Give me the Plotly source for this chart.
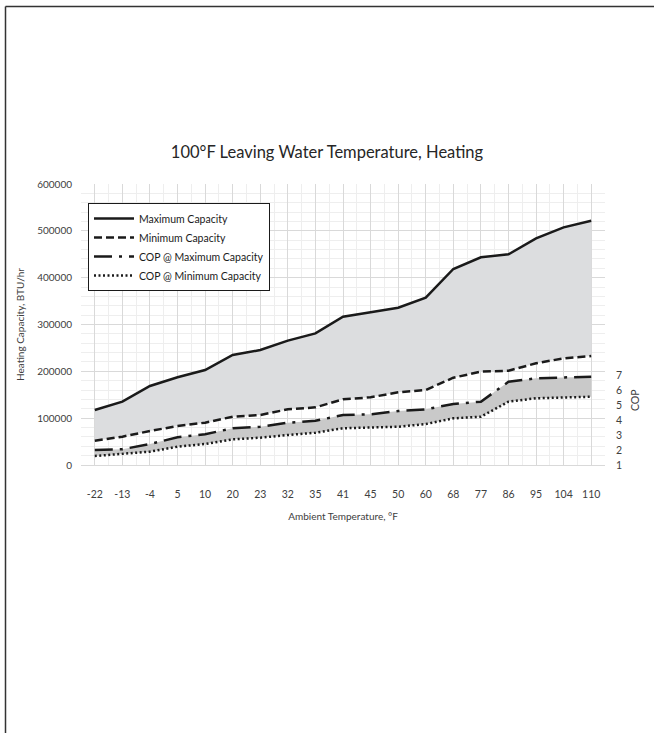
import plotly.graph_objects as go

categories = ["-22", "-13", "-4", "5", "10", "20", "23", "32", "35", "41",
              "45", "50", "60", "68", "77", "86", "95", "104", "110"]
max_capacity = [117400, 135200, 168700, 187300, 202800, 234900, 245500, 265500, 281100,
                316700, 326000, 335900, 357200, 418500, 443400, 449800, 484000, 507500, 521700]
min_capacity = [51900, 60500, 72600, 83300, 90400, 103200, 106800, 118900, 123100,
                140200, 144500, 155200, 160100, 186400, 199300, 201400, 217100, 227800, 232700]
cop_max = [2.00, 2.05, 2.40, 2.85, 3.05, 3.45, 3.55, 3.82, 3.95,
           4.33, 4.38, 4.60, 4.71, 5.07, 5.22, 6.55, 6.78, 6.85, 6.89]
cop_min = [1.60, 1.73, 1.89, 2.22, 2.40, 2.71, 2.82, 3.00, 3.15,
           3.45, 3.51, 3.55, 3.73, 4.11, 4.22, 5.22, 5.45, 5.49, 5.55]
cap_ticks = [0, 100000, 200000, 300000, 400000, 500000, 600000]
cop_ticks = [1, 2, 3, 4, 5, 6, 7]

xpos = list(range(len(categories)))
FONT = "Lato, Liberation Sans, Arial, sans-serif"
TXT = "#404040"
LINE = "#1a1a1a"

fig = go.Figure()

# capacity band (fill only, no legend)
fig.add_trace(go.Scatter(x=xpos, y=min_capacity, mode="lines", line=dict(width=0),
                         showlegend=False, hoverinfo="skip"))
fig.add_trace(go.Scatter(x=xpos, y=max_capacity, mode="lines", line=dict(width=0),
                         fill="tonexty", fillcolor="#dcdddf",
                         showlegend=False, hoverinfo="skip"))
# COP band (fill only, no legend)
fig.add_trace(go.Scatter(x=xpos, y=cop_min, mode="lines", line=dict(width=0), yaxis="y2",
                         showlegend=False, hoverinfo="skip"))
fig.add_trace(go.Scatter(x=xpos, y=cop_max, mode="lines", line=dict(width=0), yaxis="y2",
                         fill="tonexty", fillcolor="#c9c9c9",
                         showlegend=False, hoverinfo="skip"))

# visible lines
fig.add_trace(go.Scatter(x=xpos, y=max_capacity, mode="lines", name="Maximum Capacity",
                         line=dict(color=LINE, width=2.5)))
fig.add_trace(go.Scatter(x=xpos, y=min_capacity, mode="lines", name="Minimum Capacity",
                         line=dict(color=LINE, width=2.5, dash="8px,4px")))
fig.add_trace(go.Scatter(x=xpos, y=cop_max, mode="lines", name="COP @ Maximum Capacity",
                         yaxis="y2",
                         line=dict(color=LINE, width=2.5, dash="18px,7px,3px,7px")))
fig.add_trace(go.Scatter(x=xpos, y=cop_min, mode="lines", name="COP @ Minimum Capacity",
                         yaxis="y2",
                         line=dict(color=LINE, width=2.5, dash="2px,2.5px")))

cop_top = 1 + 281 / 15.0

fig.update_layout(
    width=654, height=733,
    margin=dict(l=81, r=49, t=184, b=268),
    paper_bgcolor="white", plot_bgcolor="white",
    font=dict(family=FONT, size=10, color=TXT),
    title=dict(text="100°F Leaving Water Temperature, Heating", x=0.5, xanchor="center",
               y=1 - 152 / 733, yanchor="middle",
               font=dict(family=FONT, size=16.5, color="#262626")),
    showlegend=True,
    legend=dict(x=(88 - 81) / 524, y=(465 - 203) / 281, xanchor="left", yanchor="top",
                bgcolor="white", bordercolor=LINE, borderwidth=1,
                font=dict(family=FONT, size=10.5, color=LINE),
                itemwidth=40, tracegroupgap=0, traceorder="normal"),
    xaxis=dict(range=[-0.5, len(categories) - 0.5], tickmode="array", tickvals=xpos,
               ticktext=categories, showgrid=True, gridcolor="#d9d9d9", gridwidth=1,
               zeroline=False, showline=True, linecolor="#d9d9d9", ticks="",
               ticklabelstandoff=19,
               minor=dict(tick0=-0.5, dtick=1, showgrid=True, gridcolor="#eeeeee", gridwidth=1),
               title=dict(text="Ambient Temperature, °F", standoff=14,
                          font=dict(family=FONT, size=10, color=TXT)),
               tickfont=dict(family=FONT, size=10.5, color=TXT)),
    yaxis=dict(range=[0, 600000], tickmode="array", tickvals=cap_ticks,
               ticktext=[str(v) for v in cap_ticks],
               showgrid=True, gridcolor="#d9d9d9", gridwidth=1, zeroline=False,
               showline=False, ticks="", ticklabelstandoff=8,
               minor=dict(dtick=20000, showgrid=True, gridcolor="#eeeeee", gridwidth=1),
               title=dict(text="Heating Capacity, BTU/hr", standoff=10,
                          font=dict(family=FONT, size=10, color=TXT)),
               tickfont=dict(family=FONT, size=10, color=TXT)),
    yaxis2=dict(overlaying="y", side="right", range=[1, cop_top], tickmode="array",
                tickvals=cop_ticks, ticktext=[str(v) for v in cop_ticks],
                showgrid=False, zeroline=False, showline=False, ticks="",
                ticklabelstandoff=10,
                tickfont=dict(family=FONT, size=10.5, color=TXT)),
    annotations=[dict(text="COP", xref="paper", yref="paper",
                      x=(643 - 81) / 524, y=(465 - 413) / 281, textangle=-90,
                      showarrow=False, font=dict(family=FONT, size=10.5, color=TXT))],
    shapes=[
        dict(type="line", xref="paper", yref="paper",
             x0=(5.5 - 81) / 524, x1=(654 - 81) / 524,
             y0=(465 - 6.5) / 281, y1=(465 - 6.5) / 281,
             line=dict(color="#333333", width=1.5)),
        dict(type="line", xref="paper", yref="paper",
             x0=(5.5 - 81) / 524, x1=(5.5 - 81) / 524,
             y0=(465 - 6.5) / 281, y1=(465 - 733) / 281,
             line=dict(color="#333333", width=1.5)),
    ],
)

fig.write_html("out.html",
               config={"displayModeBar": False},
               post_script="document.body.style.margin='0';"
                           "document.body.style.overflow='hidden';")
